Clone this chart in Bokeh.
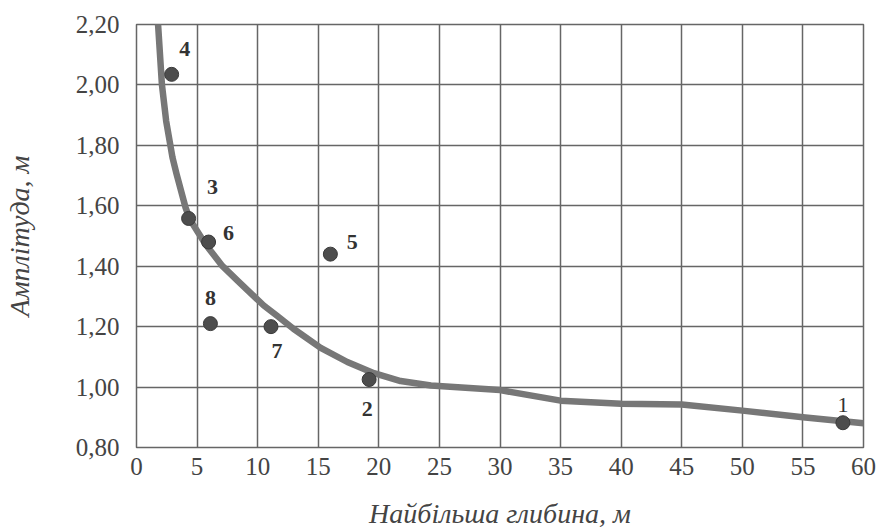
from bokeh.plotting import figure
from bokeh.models import FixedTicker, Range1d, ColumnDataSource
from bokeh.core.properties import value
from bokeh.embed import file_html
from bokeh.resources import INLINE

# Data
x_ticks = [0, 5, 10, 15, 20, 25, 30, 35, 40, 45, 50, 55, 60]
y_ticks = [0.8, 1.0, 1.2, 1.4, 1.6, 1.8, 2.0, 2.2]
y_tick_labels = ["0,80", "1,00", "1,20", "1,40", "1,60", "1,80", "2,00", "2,20"]

point_ids = ["1", "2", "3", "4", "5", "6", "7", "8"]
point_depth = [58.3, 19.2, 4.3, 2.9, 16.0, 5.95, 11.1, 6.1]
point_amp = [0.882, 1.025, 1.558, 2.035, 1.44, 1.48, 1.20, 1.21]

curve_depth = [1.78, 2.1, 2.45, 2.97, 3.3, 4.05, 4.4, 5.5, 5.9, 7.1, 8.4, 10.5, 11.6, 12.95,
               15.2, 17.4, 19.6, 21.8, 24.3, 30, 35, 40, 45, 50, 55, 60]
curve_amp = [2.20, 2.00, 1.88, 1.76, 1.706, 1.594, 1.555, 1.485, 1.462, 1.40, 1.35, 1.27, 1.236, 1.193,
             1.13, 1.083, 1.046, 1.02, 1.005, 0.99, 0.955, 0.945, 0.942, 0.922, 0.90, 0.88]

# label offsets (screen px, positive = right / down) for point numbers
label_dx = [0, -2, 24, 13, 22, 20, 6, 0]
label_dy = [-18, 29, -31, -25, -12, -9, 24, -26]
label_weight = ["normal", "bold", "bold", "bold", "bold", "bold", "bold", "bold"]

p = figure(width=876, height=531, output_backend="svg", toolbar_location=None,
           x_range=Range1d(0, 60), y_range=Range1d(0.8, 2.2),
           min_border_left=136, min_border_right=13, min_border_top=24, min_border_bottom=84)
p.background_fill_color = "white"
p.border_fill_color = "white"
p.outline_line_color = "#666666"
p.outline_line_width = 1.5

p.xaxis.ticker = FixedTicker(ticks=x_ticks)
p.yaxis.ticker = FixedTicker(ticks=y_ticks)
p.yaxis.major_label_overrides = {t: l for t, l in zip(y_ticks, y_tick_labels)}
p.xaxis.major_label_overrides = {t: str(t) for t in x_ticks}

for ax in (p.xaxis, p.yaxis):
    ax.axis_line_color = None
    ax.major_tick_line_color = None
    ax.minor_tick_line_color = None
    ax.major_label_text_font = "Liberation Serif"
    ax.major_label_text_font_size = "25px"
    ax.major_label_text_color = "#444444"
    ax.axis_label_text_font = "Liberation Serif"
    ax.axis_label_text_font_style = "italic"
    ax.axis_label_text_font_size = "28px"
    ax.axis_label_text_color = "#444444"

p.yaxis.major_label_standoff = 11
p.xaxis.major_label_standoff = 4
p.xaxis.axis_label = "Найбільша глибина, м"
p.yaxis.axis_label = "Амплітуда, м"
p.xaxis.axis_label_standoff = 20
p.yaxis.axis_label_standoff = 38

p.grid.grid_line_color = "#666666"
p.grid.grid_line_width = 1.5
p.grid.grid_line_alpha = 1.0

p.line(curve_depth, curve_amp, line_color="#777777", line_width=6.5, line_cap="round", line_join="round")

src = ColumnDataSource(dict(x=point_depth, y=point_amp, t=point_ids,
                            dx=label_dx, dy=label_dy, fw=label_weight))
p.scatter("x", "y", source=src, size=14, fill_color="#4d4d4d", line_color="#3a3a3a", line_width=1)
p.text("x", "y", text="t", source=src, x_offset="dx", y_offset="dy",
       text_font=value("Liberation Serif"), text_font_size="22px", text_font_style="fw",
       text_color="#333333", text_align="center", text_baseline="middle")

open("out.html", "w").write(file_html(p, INLINE))
